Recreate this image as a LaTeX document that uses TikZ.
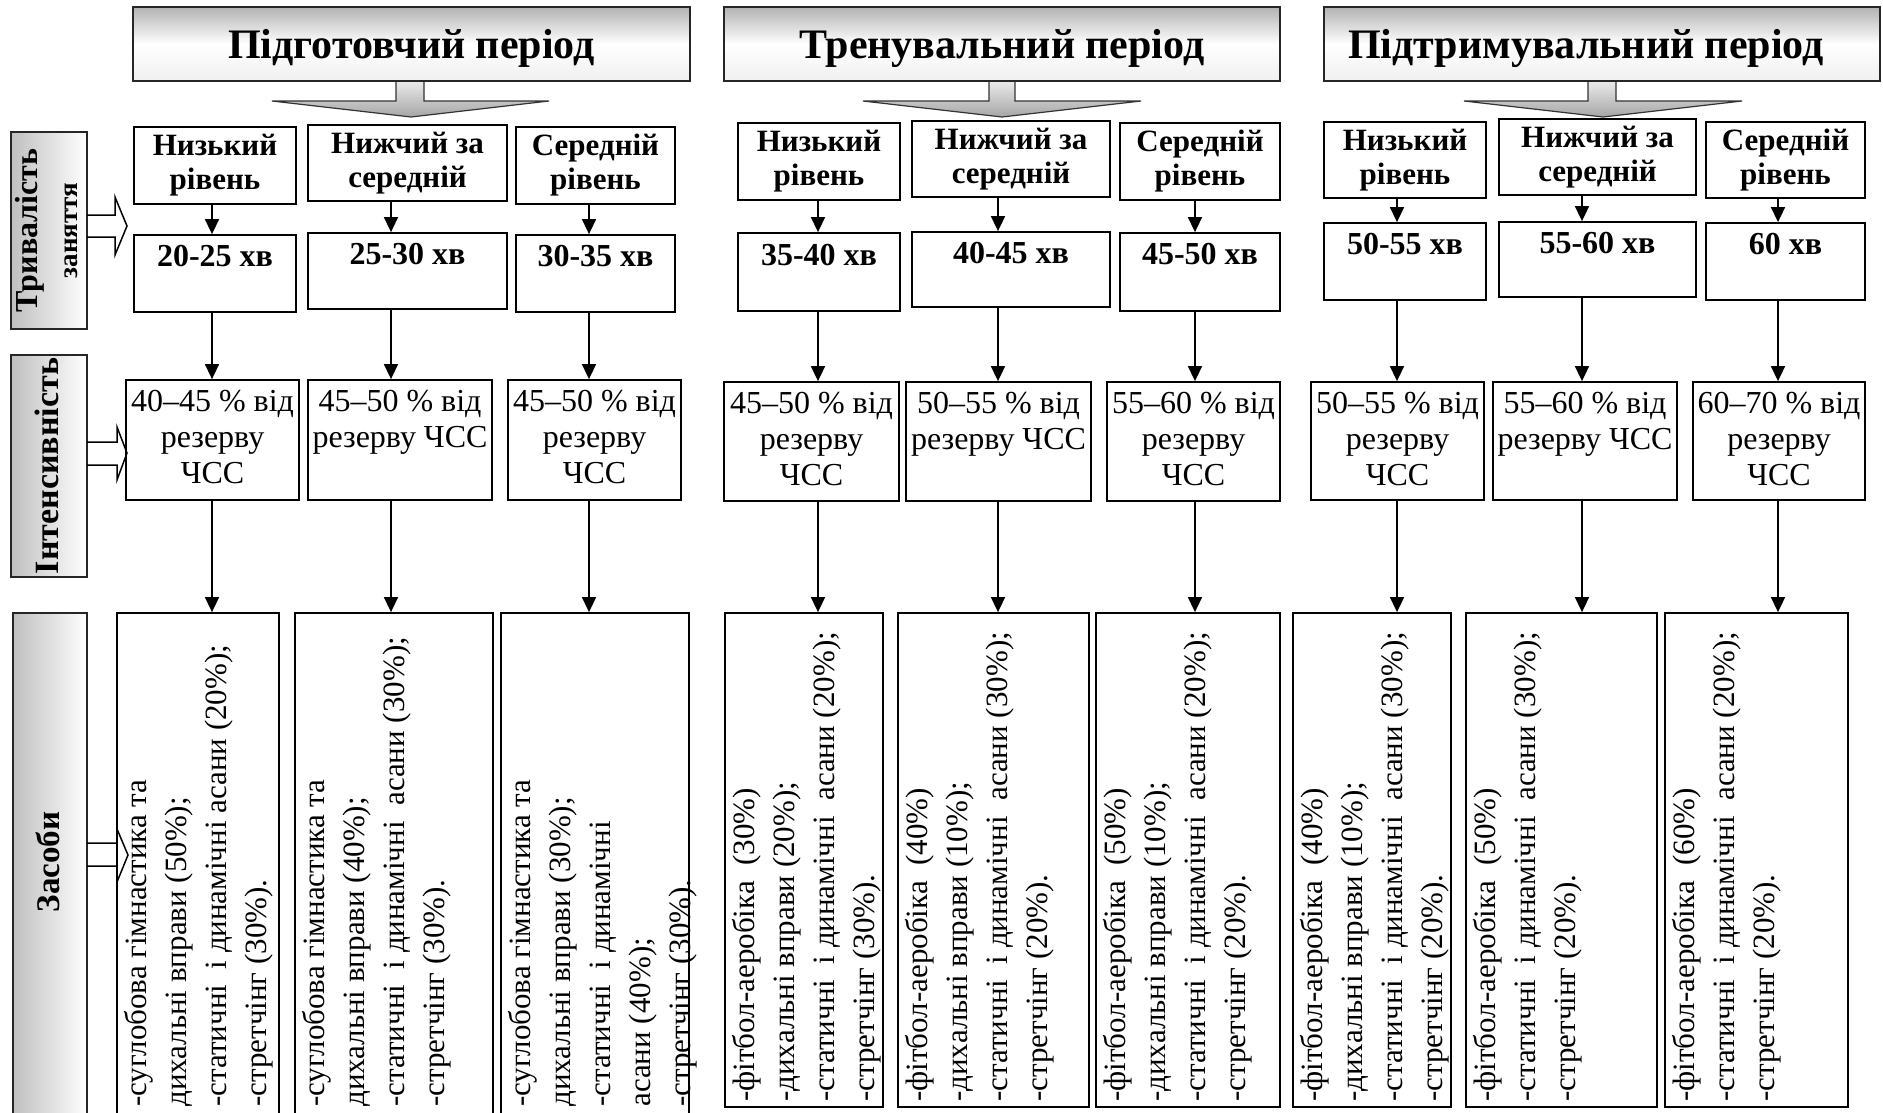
\documentclass[tikz,border=0pt]{standalone}
\usepackage{fontspec}
\setmainfont{Liberation Serif}
\usetikzlibrary{arrows.meta}
\newcommand\mkbox[7][box]{\node[#1,minimum width={#4-#3},minimum height={#6-#5}] (#2) at ({(#3+#4)/2},{(#5+#6)/2}) {#7};}
\begin{document}
\begin{tikzpicture}[x=1pt,y=-1pt,
 box/.style={draw=black,line width=1.8pt,inner sep=0pt,fill=white},
 ttl/.style={draw=black!85,line width=1.6pt,inner sep=0pt,top color=gray!60,bottom color=gray!12,middle color=white,font=\bfseries\fontsize{42}{48}\selectfont,text height=28pt,text depth=0pt},
 lab/.style={draw=black!85,line width=1.6pt,inner sep=0pt,left color=gray!50,right color=white},
 lvl/.style={box,align=center,font=\bfseries\fontsize{31}{34}\selectfont},
 dur/.style={inner sep=0pt,font=\bfseries\fontsize{32}{36}\selectfont,text height=22pt},
 ints/.style={inner sep=0pt,align=center,font=\fontsize{32}{36}\selectfont},
 ztxt/.style={inner sep=0pt,align=left,rotate=90,anchor=north west,font=\fontsize{31}{40}\selectfont},
 labtxt/.style={inner sep=0pt,align=center,rotate=90,font=\bfseries\fontsize{34}{40}\selectfont},
 arr/.style={line width=1.6pt,-{Triangle[length=15pt,width=14pt]}},
 fat/.style={draw=black,line width=1.5pt,line join=miter},
 bigarr/.style={draw=black!80,line width=1.2pt,top color=gray!15,bottom color=gray!70},
]
\useasboundingbox (0,0) rectangle (1883,1112);
\fill[white] (0,0) rectangle (1883,1112);

% title arrows
\path[bigarr] (396,80) -- (396,101) -- (272,101) -- (411,117) -- (549,101) -- (424,101) -- (424,80) -- cycle;
\path[bigarr] (989,80) -- (989,101) -- (863,101) -- (1002,117) -- (1141,101) -- (1015,101) -- (1015,80) -- cycle;
\path[bigarr] (1588,80) -- (1588,101) -- (1464,101) -- (1603,117) -- (1742,101) -- (1616,101) -- (1616,80) -- cycle;

% titles
\mkbox[ttl]{P1}{133}{690}{7}{81}{Підготовчий період}
\mkbox[ttl]{P2}{724}{1280}{7}{81}{Тренувальний період}
\mkbox[ttl]{P3}{1324}{1880}{7}{81}{}
\node[font=\bfseries\fontsize{42}{48}\selectfont,inner sep=0pt,text height=28pt,text depth=0pt] (P3t) at (1586,44) {Підтримувальний період};

% left labels
\mkbox[lab]{T1}{11}{87}{132}{329}{}
\node[labtxt] (T1t) at ([xshift=-2pt]T1.center) {{\fontsize{32}{37}\selectfont Тривалість}\\{\fontsize{27}{37}\selectfont заняття}};
\mkbox[lab]{T2}{11}{87}{355}{577}{}
\node[labtxt] (T2t) at ([xshift=-2pt]T2.center) {Інтенсивність};
\mkbox[lab]{T3}{13}{87}{613}{1130}{}
\node[labtxt,font=\bfseries\fontsize{33}{40}\selectfont] (T3t) at (48,862) {Засоби};

% level boxes
\mkbox[lvl]{L1}{134}{296}{127}{204}{Низький\\рівень}
\mkbox[lvl]{L2}{308}{507}{125}{201}{Нижчий за\\середній}
\mkbox[lvl]{L3}{516}{675}{127}{204}{Середній\\рівень}
\mkbox[lvl]{L4}{738}{900}{123}{200}{Низький\\рівень}
\mkbox[lvl]{L5}{912}{1110}{121}{197}{Нижчий за\\середній}
\mkbox[lvl]{L6}{1120}{1280}{123}{200}{Середній\\рівень}
\mkbox[lvl]{L7}{1324}{1486}{122}{198}{Низький\\рівень}
\mkbox[lvl]{L8}{1499}{1696}{119}{195}{Нижчий за\\середній}
\mkbox[lvl]{L9}{1706}{1865}{122}{198}{Середній\\рівень}

% duration boxes
\mkbox{D1}{134}{296}{235}{312}{}
\mkbox{D2}{308}{507}{233}{309}{}
\mkbox{D3}{516}{675}{235}{312}{}
\mkbox{D4}{738}{900}{233}{311}{}
\mkbox{D5}{912}{1110}{232}{307}{}
\mkbox{D6}{1120}{1280}{233}{311}{}
\mkbox{D7}{1324}{1486}{223}{300}{}
\mkbox{D8}{1499}{1696}{222}{297}{}
\mkbox{D9}{1706}{1865}{223}{300}{}
\node[dur,anchor=north] (d1) at ([yshift=-10pt]D1.north) {20-25 хв};
\node[dur,anchor=north] (d2) at ([yshift=-10pt]D2.north) {25-30 хв};
\node[dur,anchor=north] (d3) at ([yshift=-10pt]D3.north) {30-35 хв};
\node[dur,anchor=north] (d4) at ([yshift=-11pt]D4.north) {35-40 хв};
\node[dur,anchor=north] (d5) at ([yshift=-10pt]D5.north) {40-45 хв};
\node[dur,anchor=north] (d6) at ([yshift=-10pt]D6.north) {45-50 хв};
\node[dur,anchor=north] (d7) at ([yshift=-10pt]D7.north) {50-55 хв};
\node[dur,anchor=north] (d8) at ([yshift=-10pt]D8.north) {55-60 хв};
\node[dur,anchor=north] (d9) at ([yshift=-10pt]D9.north) {60 хв};

% intensity boxes
\mkbox{I1}{126}{299}{380}{500}{}
\mkbox{I2}{308}{492}{380}{500}{}
\mkbox{I3}{508}{681}{380}{500}{}
\mkbox{I4}{724}{899}{382}{501}{}
\mkbox{I5}{906}{1091}{382}{501}{}
\mkbox{I6}{1107}{1280}{382}{501}{}
\mkbox{I7}{1311}{1484}{382}{500}{}
\mkbox{I8}{1493}{1677}{382}{500}{}
\mkbox{I9}{1693}{1865}{382}{500}{}
\node[ints,anchor=north] (i1) at ([yshift=-11pt]I1.north) {40–45 \% від\\резерву\\ЧСС};
\node[ints,anchor=north] (i2) at ([yshift=-11pt]I2.north) {45–50 \% від\\резерву ЧСС};
\node[ints,anchor=north] (i3) at ([yshift=-11pt]I3.north) {45–50 \% від\\резерву\\ЧСС};
\node[ints,anchor=north] (i4) at ([yshift=-11pt]I4.north) {45–50 \% від\\резерву\\ЧСС};
\node[ints,anchor=north] (i5) at ([yshift=-11pt]I5.north) {50–55 \% від\\резерву ЧСС};
\node[ints,anchor=north] (i6) at ([yshift=-11pt]I6.north) {55–60 \% від\\резерву\\ЧСС};
\node[ints,anchor=north] (i7) at ([yshift=-11pt]I7.north) {50–55 \% від\\резерву\\ЧСС};
\node[ints,anchor=north] (i8) at ([yshift=-11pt]I8.north) {55–60 \% від\\резерву ЧСС};
\node[ints,anchor=north] (i9) at ([yshift=-11pt]I9.north) {60–70 \% від\\резерву\\ЧСС};

% means boxes
\mkbox{Z1}{117}{279}{613}{1130}{}
\mkbox{Z2}{295}{493}{613}{1130}{}
\mkbox{Z3}{501}{689}{613}{1130}{}
\mkbox{Z4}{725}{883}{613}{1107}{}
\mkbox{Z5}{898}{1089}{613}{1107}{}
\mkbox{Z6}{1096}{1280}{613}{1107}{}
\mkbox{Z7}{1293}{1451}{613}{1107}{}
\mkbox{Z8}{1466}{1657}{613}{1107}{}
\mkbox{Z9}{1665}{1848}{613}{1107}{}
\node[ztxt] (z1) at ([xshift=8pt,yshift=24pt]Z1.south west) {-суглобова гімнастика та\\дихальні вправи (50\%);\\-статичні\ \ і динамічні асани (20\%);\\-стретчінг (30\%).};
\node[ztxt] (z2) at ([xshift=8pt,yshift=24pt]Z2.south west) {-суглобова гімнастика та\\дихальні вправи (40\%);\\-статичні\ \ і динамічні\ \ асани (30\%);\\-стретчінг (30\%).};
\node[ztxt] (z3) at ([xshift=8pt,yshift=24pt]Z3.south west) {-суглобова гімнастика та\\дихальні вправи (30\%);\\-статичні\ \ і динамічні\\асани (40\%);\\-стретчінг (30\%).};
\node[ztxt] (z4) at ([xshift=8pt,yshift=6pt]Z4.south west) {-фітбол-аеробіка\ \ (30\%)\\-дихальні вправи (20\%);\\-статичні\ \ і динамічні\ \ асани (20\%);\\-стретчінг (30\%).};
\node[ztxt] (z5) at ([xshift=8pt,yshift=6pt]Z5.south west) {-фітбол-аеробіка\ \ (40\%)\\-дихальні вправи (10\%);\\-статичні\ \ і динамічні\ \ асани (30\%);\\-стретчінг (20\%).};
\node[ztxt] (z6) at ([xshift=8pt,yshift=6pt]Z6.south west) {-фітбол-аеробіка\ \ (50\%)\\-дихальні вправи (10\%);\\-статичні\ \ і динамічні\ \ асани (20\%);\\-стретчінг (20\%).};
\node[ztxt] (z7) at ([xshift=8pt,yshift=6pt]Z7.south west) {-фітбол-аеробіка\ \ (40\%)\\-дихальні вправи (10\%);\\-статичні\ \ і динамічні\ \ асани (30\%);\\-стретчінг (20\%).};
\node[ztxt] (z8) at ([xshift=8pt,yshift=6pt]Z8.south west) {-фітбол-аеробіка\ \ (50\%)\\-статичні\ \ і динамічні\ \ асани (30\%);\\-стретчінг (20\%).};
\node[ztxt] (z9) at ([xshift=8pt,yshift=6pt]Z9.south west) {-фітбол-аеробіка\ \ (60\%)\\-статичні\ \ і динамічні\ \ асани (20\%);\\-стретчінг (20\%).};

% fat label arrows
\draw[fat] (87,215) -- (115,215) -- (115,197) -- (127,226) -- (115,255) -- (115,237) -- (87,237);
\draw[fat] (87,442) -- (117,442) -- (117,427) -- (127,453) -- (117,480) -- (117,465) -- (87,465);
\draw[fat] (87,843) -- (117,843) -- (117,829) -- (128,855) -- (117,882) -- (117,866) -- (87,866);

% column connectors
\foreach \c/\x in {1/212,2/391,3/589,4/818,5/998,6/1195,7/1397,8/1582,9/1778}{
  \coordinate (c\c) at (\x,0);
  \draw[arr] (L\c.south -| c\c) -- (D\c.north -| c\c);
  \draw[arr] (D\c.south -| c\c) -- (I\c.north -| c\c);
  \draw[arr] (I\c.south -| c\c) -- (Z\c.north -| c\c);
}
\end{tikzpicture}
\end{document}
